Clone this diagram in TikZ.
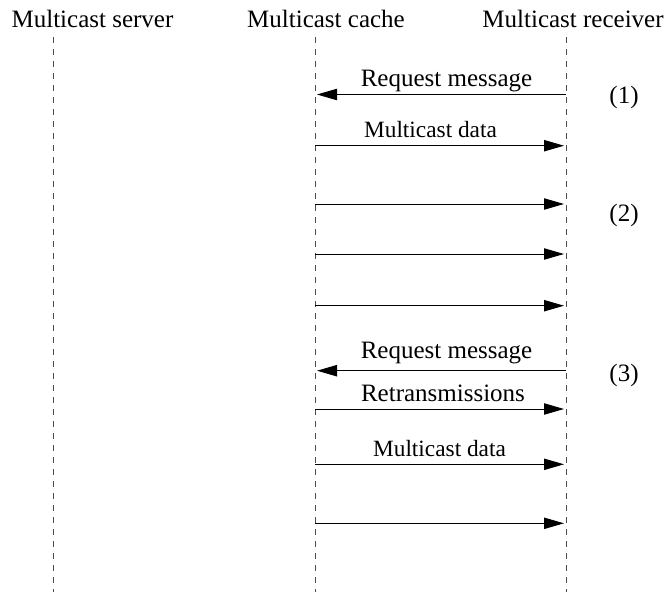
\documentclass[tikz,border=0pt]{standalone}
\usepackage{fontspec}
\setmainfont{Liberation Serif}
\usetikzlibrary{arrows.meta,positioning}
\tikzset{
  lifeline/.style={draw=black!70,line width=0.75pt,dash pattern=on 4.5pt off 4.5pt},
  msg/.style={draw=black,line width=0.75pt,-{Triangle[length=15pt,width=8.5pt]},shorten >=1.5pt},
  hdr/.style={font=\fontsize{18.75}{22}\selectfont,inner sep=0pt,anchor=base},
  lbl/.style={font=\fontsize{18.75}{22}\selectfont,inner sep=0pt,anchor=base},
  lbldata/.style={lbl,font=\fontsize{17.5}{21}\selectfont},
  phase/.style={font=\fontsize{18.75}{22}\selectfont,inner sep=0pt}
}

\begin{document}
\begin{tikzpicture}[x=0.75pt,y=-0.75pt]
  \useasboundingbox (0,0) rectangle (666,592);
  \node[hdr] (server) at (92.5,28) {Multicast server};
  \node[hdr] (cache) at (326,28) {Multicast cache};
  \node[hdr] (receiver) at (573,28) {Multicast receiver};
  \foreach \n/\x in {s/53,c/315,r/566} {
    \coordinate (\n top) at (\x,37);
    \coordinate (\n bot) at (\x,592);
    \draw[lifeline] (\n top) -- (\n bot);
  }
  \foreach \i/\y in {1/94.5,2/145.7,3/204,4/254,5/305.7,6/370.7,7/409,8/464.3,9/523.3} {
    \coordinate (c\i) at (315,\y);
    \coordinate (r\i) at (566,\y);
  }
  \draw[msg] (r1) -- (c1);
  \draw[msg] (r6) -- (c6);
  \foreach \i in {2,3,4,5,7,8,9}
    \draw[msg] (c\i) -- (r\i);
  \node[lbl] (req1) at (446.5,86.7) {Request message};
  \node[lbldata] (data1) at (430.5,137.3) {Multicast data};
  \node[lbl] (req2) at (446.5,358) {Request message};
  \node[lbl] (retx) at (443,401.7) {Retransmissions};
  \node[lbldata] (data2) at (439.5,456.7) {Multicast data};
  \node[phase] (p1) at (624,97) {(1)};
  \node[phase] (p2) at (624,215) {(2)};
  \node[phase] (p3) at (624,375) {(3)};
\end{tikzpicture}
\end{document}
